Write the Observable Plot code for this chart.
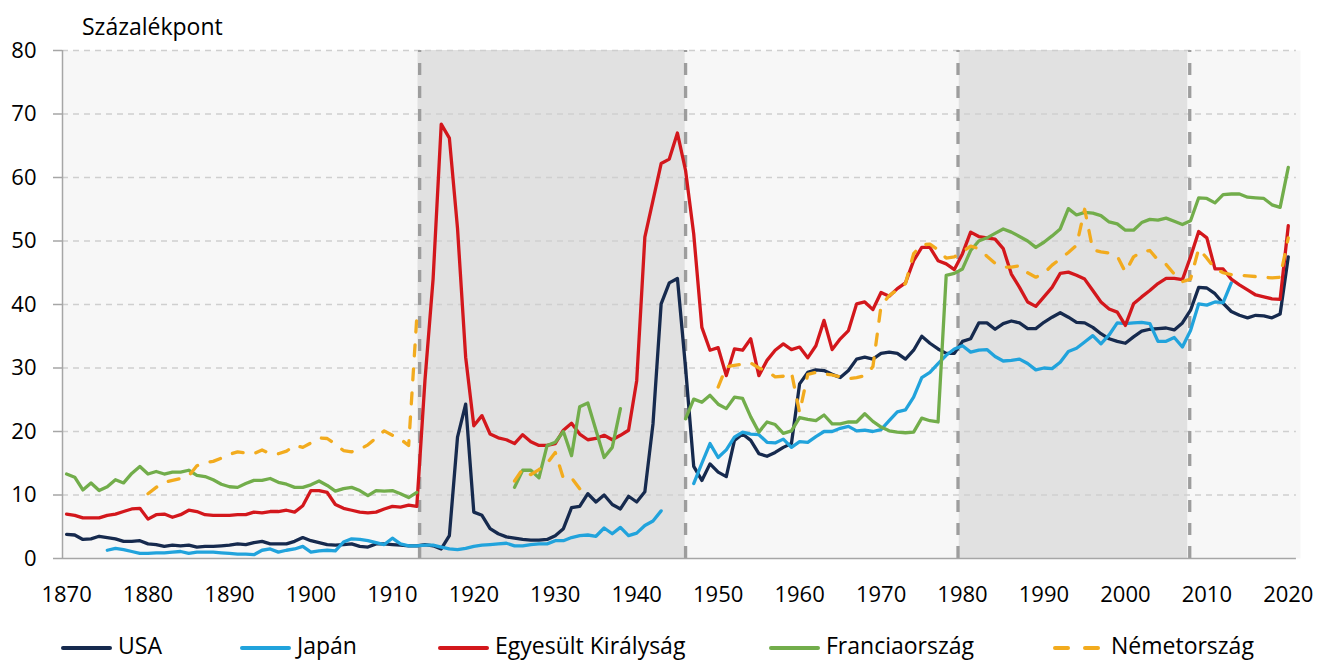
<!DOCTYPE html>
<html><head><meta charset="utf-8">
<script src="https://cdn.jsdelivr.net/npm/d3@7"></script>
<script src="https://cdn.jsdelivr.net/npm/@observablehq/plot@0.6"></script>
<style>
body{margin:0;background:#fff;font-family:"Open Sans",sans-serif;}
#wrap{position:relative;width:1319px;height:662px;overflow:hidden;}
#title{position:absolute;left:82px;top:15px;font-size:23px;line-height:23px;color:#000;white-space:nowrap;}
#chart{position:absolute;left:0;top:20px;}
#legend{position:absolute;left:0;top:610px;width:1319px;height:52px;}
.lg{position:absolute;top:24px;font-size:23px;line-height:23px;color:#000;white-space:nowrap;}
#legend svg{position:absolute;left:0;top:0;}
</style></head>
<body><div id="wrap"><div id="title">Százalékpont</div><div id="chart"></div><div id="legend"></div></div>
<script>
const years = d3.range(1870, 2021);
const xTicks = [1870,1880,1890,1900,1910,1920,1930,1940,1950,1960,1970,1980,1990,2000,2010,2020];
const yTicks = [0,10,20,30,40,50,60,70,80];
const names = ["USA","Japán","Egyesült Királyság","Franciaország","Németország"];
const colors = ["#162a4e","#21a3dc","#d3171c","#72ad4b","#f2ab1e"];
const bandStarts = [1913.15, 1979.6];
const bandEnds = [1945.95, 2007.65];
const dividers = [1913.35, 1946.0, 1979.45, 2007.9];
const _ = null;

const usa = [
3.8,3.7,3.0,3.1,3.5,3.3,3.1,2.7,2.7,2.8,
2.3,2.2,1.9,2.1,2.0,2.1,1.8,1.9,1.9,2.0,
2.1,2.3,2.2,2.5,2.7,2.3,2.3,2.3,2.7,3.3,
2.8,2.5,2.2,2.1,2.2,2.3,1.9,1.8,2.3,2.3,
2.2,2.1,2.0,2.0,2.2,2.0,1.5,3.6,19.1,24.3,
7.3,6.8,4.7,3.9,3.4,3.2,3.0,2.9,2.9,3.0,
3.6,4.7,8.0,8.2,10.2,8.9,10.0,8.5,7.8,9.8,
8.9,10.5,21.2,40.1,43.4,44.1,30.0,14.5,12.3,14.9,
13.6,12.9,18.6,19.6,18.6,16.5,16.1,16.7,17.5,18.1,
27.5,29.3,29.7,29.6,29.0,28.5,29.6,31.4,31.7,31.4,
32.3,32.5,32.3,31.4,32.8,35.0,33.9,33.0,32.3,32.3,
34.2,34.6,37.1,37.1,36.1,37.0,37.4,37.1,36.2,36.2,
37.2,38.0,38.7,38.0,37.2,37.1,36.4,35.4,34.6,34.2,
33.9,34.9,35.8,36.1,36.2,36.3,36.0,37.1,39.1,42.7,
42.6,41.7,40.2,38.9,38.3,37.9,38.3,38.2,37.9,38.5,
47.5];

const japan = [
_,_,_,_,_,1.3,1.6,1.4,1.1,0.8,
0.8,0.9,0.9,1.0,1.1,0.8,1.0,1.0,1.0,0.9,
0.8,0.7,0.7,0.6,1.3,1.5,1.0,1.3,1.5,1.9,
1.0,1.2,1.3,1.2,2.6,3.1,3.0,2.8,2.5,2.2,
3.2,2.3,2.0,2.0,2.1,2.1,1.8,1.5,1.4,1.6,
1.9,2.1,2.2,2.3,2.4,2.0,2.0,2.2,2.3,2.3,
2.8,2.8,3.3,3.6,3.7,3.5,4.8,3.9,4.9,3.6,
4.0,5.2,5.9,7.5,_,_,_,11.8,15.0,18.1,
15.9,17.1,19.1,19.9,19.6,19.5,18.3,18.2,18.8,17.5,
18.4,18.3,19.2,20.0,20.0,20.5,20.8,20.1,20.2,20.0,
20.3,21.7,23.1,23.4,25.4,28.5,29.3,30.7,32.0,33.0,
33.5,32.5,32.8,32.9,31.8,31.1,31.2,31.4,30.7,29.7,
30.0,29.9,30.9,32.6,33.1,34.1,35.1,33.8,35.2,37.1,
37.0,37.1,37.2,37.0,34.2,34.2,34.8,33.3,35.9,40.1,
39.9,40.4,40.3,43.4,_,_,_,_,_,_,
_];

const uk = [
7.0,6.8,6.4,6.4,6.4,6.8,7.0,7.4,7.8,7.9,
6.2,6.9,7.0,6.5,6.9,7.6,7.4,6.9,6.8,6.8,
6.8,6.9,6.9,7.3,7.2,7.4,7.4,7.6,7.3,8.3,
10.7,10.7,10.4,8.5,7.9,7.6,7.3,7.2,7.3,7.8,
8.2,8.1,8.4,8.2,28.0,44.0,68.4,66.2,52.0,31.7,
20.9,22.5,19.6,19.0,18.7,18.1,19.5,18.4,17.8,17.8,
18.1,20.2,21.3,19.6,18.7,18.9,19.4,18.7,19.4,20.2,
28.0,50.6,56.4,62.2,62.9,67.0,61.1,51.1,36.4,32.8,
33.2,28.8,33.0,32.8,34.6,28.8,31.2,32.8,33.8,32.9,
33.3,31.6,33.5,37.5,32.9,34.6,35.9,40.1,40.4,39.2,
41.9,41.3,42.5,43.4,46.9,49.0,49.0,46.9,46.4,45.5,
48.0,51.4,50.7,50.5,50.3,48.8,44.8,42.7,40.4,39.7,
41.2,42.7,44.9,45.1,44.6,44.0,42.2,40.4,39.3,38.8,
36.7,40.1,41.2,42.2,43.3,44.1,44.1,43.9,47.5,51.5,
50.5,45.6,45.6,44.0,43.1,42.3,41.5,41.2,40.9,40.8,
52.4];

const france = [
13.3,12.8,10.8,11.9,10.7,11.3,12.4,11.9,13.4,14.5,
13.3,13.7,13.3,13.6,13.6,13.9,13.1,12.9,12.4,11.7,
11.3,11.2,11.8,12.3,12.3,12.6,12.0,11.7,11.2,11.2,
11.6,12.2,11.5,10.6,11.0,11.2,10.7,9.9,10.7,10.6,
10.7,10.2,9.6,10.4,_,_,_,_,_,_,
_,_,_,_,_,11.2,13.9,13.9,12.7,17.8,
18.3,20.0,16.2,23.9,24.5,20.2,15.9,17.5,23.6,_,
_,_,_,_,_,_,22.0,25.1,24.6,25.7,
24.3,23.6,25.4,25.2,22.3,19.9,21.5,21.1,19.7,20.1,
22.2,21.9,21.7,22.6,21.2,21.2,21.5,21.5,22.8,21.6,
20.7,20.1,19.9,19.8,19.9,22.1,21.7,21.5,44.6,44.9,
45.6,48.5,50.0,50.5,51.2,51.9,51.4,50.7,50.0,49.0,
49.8,50.8,51.9,55.1,54.1,54.5,54.4,54.0,53.0,52.7,
51.7,51.7,52.9,53.4,53.3,53.6,53.1,52.6,53.2,56.8,
56.7,56.0,57.3,57.4,57.4,56.9,56.8,56.7,55.7,55.3,
61.6];

const germany = [
_,_,_,_,_,_,_,_,_,_,
10.2,11.2,12.0,12.3,12.6,13.0,14.6,15.1,15.3,15.8,
16.4,16.8,16.6,16.5,17.1,16.5,16.5,16.9,17.8,17.5,
18.2,19.0,18.9,18.0,17.0,16.8,17.2,17.9,19.0,20.1,
19.4,18.8,17.8,38.0,_,_,_,_,_,_,
_,_,_,_,_,12.2,14.1,13.2,14.0,15.0,
16.7,12.6,12.7,11.0,_,_,_,_,_,_,
_,_,_,_,_,_,_,_,_,_,
27.0,30.2,30.4,30.6,30.8,30.0,29.5,28.6,28.7,29.3,
23.0,29.0,29.3,29.1,28.9,28.6,28.3,28.5,28.8,30.2,
39.8,41.4,42.3,43.3,48.0,49.4,49.5,48.6,47.3,47.5,
48.3,49.2,48.8,47.6,46.5,45.9,45.9,46.1,45.0,44.3,
44.9,46.2,47.2,48.2,49.3,55.0,48.6,48.3,48.1,47.6,
45.1,47.5,48.3,48.5,47.0,46.3,44.8,43.6,44.0,48.8,
47.3,45.6,45.0,44.7,44.6,44.5,44.4,44.3,44.2,44.3,
50.5];

const seriesValues = [usa, japan, uk, france, germany];
const bands = bandStarts.map((s,i)=>({start:s, end:bandEnds[i]}));
const table = names.map((n,k)=>years.map((yr,i)=>({year:yr, value:seriesValues[k][i], country:n})));

const xMin = 1869.5, xAxisEnd = 2021, xMax = 2021.5;

const lineMarks = table.map((rows,k)=>Plot.line(rows, {
  x:"year", y:"value", stroke:colors[k], strokeWidth:3.3,
  strokeLinejoin:"round", strokeLinecap:"round",
  strokeDasharray: k===4 ? "11,13" : null
}));

const chart = Plot.plot({
  width:1319, height:590,
  marginLeft:62, marginRight:19, marginTop:30, marginBottom:52,
  style:{fontFamily:"'Open Sans', sans-serif", fontSize:"22px", color:"#000", background:"transparent", overflow:"visible"},
  x:{domain:[xMin, xMax], axis:null},
  y:{domain:[0,80], axis:null},
  marks:[
    Plot.frame({fill:"#f7f7f7", stroke:"none"}),
    Plot.rect(bands, {x1:"start", x2:"end", y1:0, y2:80, fill:"#e1e1e1"}),
    Plot.ruleY(yTicks.filter(d=>d>0), {x1:xMin, x2:xAxisEnd, stroke:"#cfcfcf", strokeWidth:1.3, strokeDasharray:"6,5"}),
    Plot.ruleX(dividers, {y1:0, y2:80, stroke:"#9d9d9d", strokeWidth:3.3, strokeDasharray:"12,11"}),
    Plot.ruleX([xMin], {y1:0, y2:80, stroke:"#a6a6a6", strokeWidth:1.5}),
    Plot.ruleY([0], {x1:xMin, x2:xAxisEnd, stroke:"#a6a6a6", strokeWidth:1.5}),
    ...lineMarks,
    Plot.axisY(yTicks, {label:null, tickSize:9, tickPadding:17, fontSize:22, stroke:"#a6a6a6", fill:"#000", strokeWidth:1.5}),
    Plot.axisX(xTicks, {label:null, tickSize:0, tickPadding:28, fontSize:22, fill:"#000", tickFormat:d=>String(d)})
  ]
});
document.getElementById("chart").appendChild(chart);

// legend
const legendPos = [61, 240, 438, 769, 1053];
const lg = document.getElementById("legend");
const ns = "http://www.w3.org/2000/svg";
const svg = document.createElementNS(ns, "svg");
svg.setAttribute("width", 1319); svg.setAttribute("height", 52);
names.forEach((n,k)=>{
  const x0 = legendPos[k];
  const segs = k===4 ? [[x0+2, x0+15],[x0+32, x0+45]] : [[x0+2, x0+49]];
  segs.forEach(([a,b])=>{
    const l = document.createElementNS(ns,"line");
    l.setAttribute("x1",a); l.setAttribute("x2",b); l.setAttribute("y1",38); l.setAttribute("y2",38);
    l.setAttribute("stroke",colors[k]); l.setAttribute("stroke-width",4); l.setAttribute("stroke-linecap","round");
    svg.appendChild(l);
  });
  const t = document.createElement("div");
  t.className = "lg";
  t.style.left = (k===4 ? x0+58 : x0+57) + "px";
  t.textContent = n;
  lg.appendChild(t);
});
lg.appendChild(svg);
</script>
</body></html>
